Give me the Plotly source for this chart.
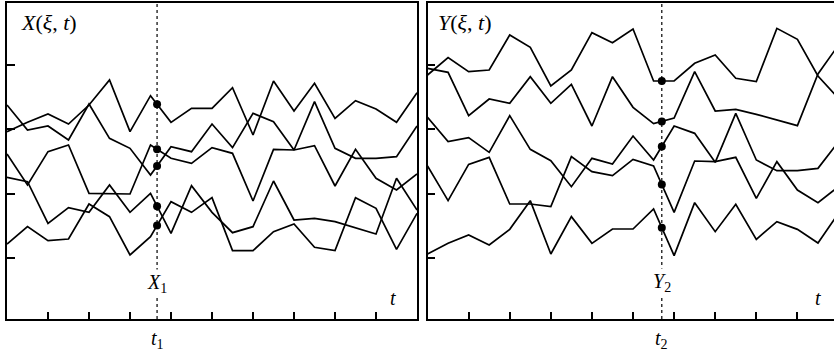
import numpy as np
import plotly.graph_objects as go

# time grid (vertex positions)
t = [0, 0.5, 1, 1.5, 2, 2.5, 3, 3.5, 4, 4.5, 5, 5.5, 6, 6.5, 7, 7.5, 8, 8.5, 9, 9.5, 10]

# left panel: realizations X(xi, t)
x1 = [651, 576, 588, 546, 654, 551, 521, 441, 526, 511, 594, 523, 626, 601, 516, 661, 521, 491, 491, 496, 588]
x2 = [571, 599, 624, 594, 651, 726, 571, 679, 599, 641, 641, 703, 561, 723, 633, 716, 611, 664, 639, 599, 688]
x3 = [504, 411, 511, 531, 386, 386, 384, 531, 491, 476, 523, 506, 363, 518, 516, 529, 408, 518, 431, 396, 444]
x4 = [434, 421, 296, 343, 329, 411, 329, 386, 266, 409, 329, 268, 286, 423, 306, 311, 301, 283, 264, 431, 336]
x5 = [234, 286, 244, 249, 354, 316, 201, 256, 361, 329, 373, 214, 214, 271, 294, 224, 214, 373, 341, 218, 326]

# right panel: realizations Y(xi, t)
y1 = [741, 793, 751, 756, 861, 824, 708, 756, 868, 838, 879, 723, 723, 776, 801, 731, 721, 881, 848, 738, 671]
y2 = [761, 749, 619, 669, 656, 736, 656, 713, 588, 736, 644, 595, 612, 751, 633, 638, 623, 606, 589, 744, 831]
y3 = [614, 541, 553, 509, 619, 518, 484, 406, 491, 474, 558, 486, 588, 566, 479, 626, 486, 454, 454, 461, 541]
y4 = [468, 364, 473, 494, 354, 354, 346, 496, 451, 439, 488, 468, 329, 483, 481, 494, 371, 481, 396, 358, 406]
y5 = [204, 236, 261, 231, 278, 364, 204, 316, 236, 279, 279, 339, 199, 358, 271, 353, 248, 301, 278, 237, 326]

t1 = 3.66
t2 = 5.7
x_ticks = [1, 2, 3, 4, 5, 6, 7, 8, 9]
v_ticks = [192, 385, 578, 770]
v_range = [9, 957]

fig = go.Figure()
LW = 1.7
for s in [x1, x2, x3, x4, x5]:
    fig.add_trace(go.Scatter(x=t, y=s, mode="lines", line=dict(color="black", width=LW),
                             xaxis="x", yaxis="y", showlegend=False, hoverinfo="skip"))
for s in [y1, y2, y3, y4, y5]:
    fig.add_trace(go.Scatter(x=t, y=s, mode="lines", line=dict(color="black", width=LW),
                             xaxis="x2", yaxis="y2", showlegend=False, hoverinfo="skip"))

# dashed section lines
fig.add_trace(go.Scatter(x=[t1, t1], y=v_range, mode="lines",
                         line=dict(color="black", width=1.2, dash="3px,3px"),
                         xaxis="x", yaxis="y", showlegend=False, hoverinfo="skip"))
fig.add_trace(go.Scatter(x=[t2, t2], y=v_range, mode="lines",
                         line=dict(color="black", width=1.2, dash="3px,3px"),
                         xaxis="x2", yaxis="y2", showlegend=False, hoverinfo="skip"))

# section points
fig.add_trace(go.Scatter(x=[t1] * 5, y=[float(np.interp(t1, t, s)) for s in [x1, x2, x3, x4, x5]],
                         mode="markers", marker=dict(color="black", size=8),
                         xaxis="x", yaxis="y", showlegend=False, hoverinfo="skip"))
fig.add_trace(go.Scatter(x=[t2] * 5, y=[float(np.interp(t2, t, s)) for s in [y1, y2, y3, y4, y5]],
                         mode="markers", marker=dict(color="black", size=8),
                         xaxis="x2", yaxis="y2", showlegend=False, hoverinfo="skip"))

axis_common = dict(showgrid=False, zeroline=False, showticklabels=False,
                   ticks="inside", tickcolor="black", tickwidth=1.5,
                   showline=True, linecolor="black", linewidth=1.5)

fig.update_layout(
    width=834, height=355,
    margin=dict(l=7, r=0, t=3, b=36),
    paper_bgcolor="white", plot_bgcolor="white",
    font=dict(family="Liberation Serif", color="black"),
    xaxis=dict(domain=[0, 0.4958], range=[0, 10], tickvals=x_ticks, ticklen=7,
               mirror=True, anchor="y", **axis_common),
    yaxis=dict(domain=[0, 1], range=v_range, tickvals=v_ticks, ticklen=8,
               mirror=True, anchor="x", **axis_common),
    xaxis2=dict(domain=[0.5085, 1], range=[0, 9.89], tickvals=x_ticks, ticklen=7,
                mirror=True, anchor="y2", **axis_common),
    yaxis2=dict(domain=[0, 1], range=v_range, tickvals=v_ticks, ticklen=8,
                mirror=False, anchor="x2", **axis_common),
)

FS_T = 22
FS = 20
ann = []
ann.append(dict(x=0.3, y=900, xref="x", yref="y", text="<i>X</i>(<i>ξ</i>, <i>t</i>)",
                showarrow=False, xanchor="left", yanchor="middle", font=dict(size=FS_T)))
ann.append(dict(x=0.2, y=900, xref="x2", yref="y2", text="<i>Y</i>(<i>ξ</i>, <i>t</i>)",
                showarrow=False, xanchor="left", yanchor="middle", font=dict(size=FS_T)))
ann.append(dict(x=t1, y=117, xref="x", yref="y", text="<i>X</i><sub>1</sub>",
                showarrow=False, xanchor="center", yanchor="middle", bgcolor="white",
                font=dict(size=FS)))
ann.append(dict(x=t2, y=120, xref="x2", yref="y2", text="<i>Y</i><sub>2</sub>",
                showarrow=False, xanchor="center", yanchor="middle", bgcolor="white",
                font=dict(size=FS)))
ann.append(dict(x=9.41, y=72, xref="x", yref="y", text="<i>t</i>",
                showarrow=False, xanchor="center", yanchor="middle", font=dict(size=FS)))
ann.append(dict(x=9.5, y=72, xref="x2", yref="y2", text="<i>t</i>",
                showarrow=False, xanchor="center", yanchor="middle", font=dict(size=FS)))
ann.append(dict(x=t1, y=-0.066, xref="x", yref="paper", text="<i>t</i><sub>1</sub>",
                showarrow=False, xanchor="center", yanchor="middle", font=dict(size=FS)))
ann.append(dict(x=t2, y=-0.066, xref="x2", yref="paper", text="<i>t</i><sub>2</sub>",
                showarrow=False, xanchor="center", yanchor="middle", font=dict(size=FS)))
fig.update_layout(annotations=ann)

fig.write_html("out.html", config={"displayModeBar": False},
               post_script="document.body.style.margin='0';document.body.style.overflow='hidden';")
